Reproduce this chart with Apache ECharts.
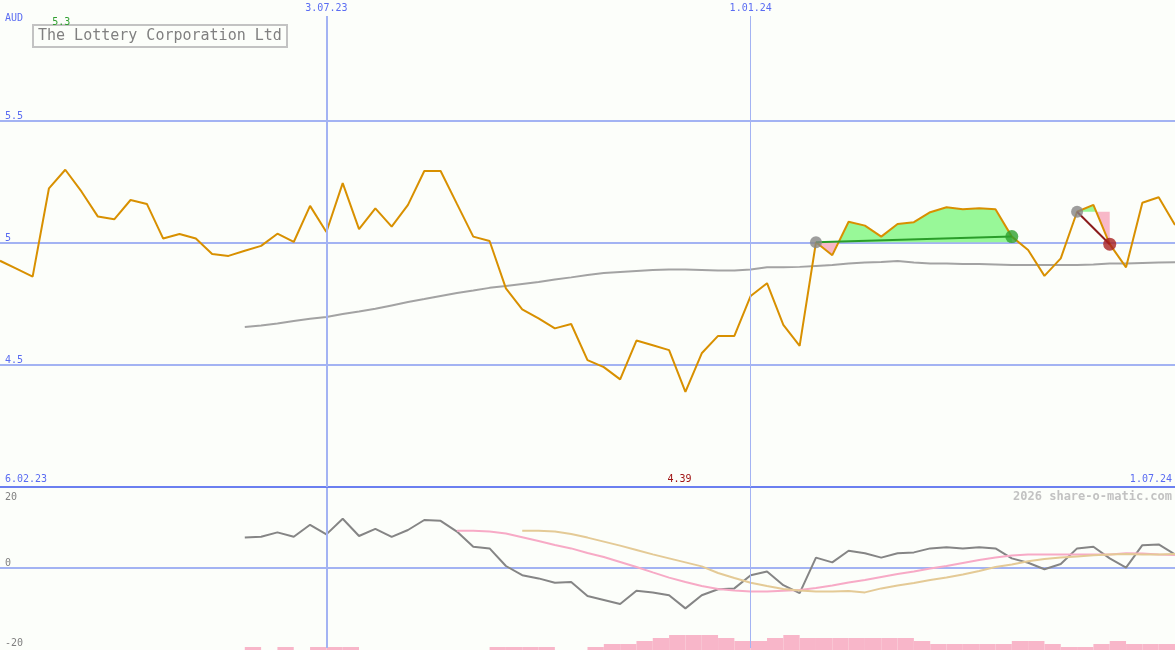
<!DOCTYPE html>
<html><head><meta charset="utf-8">
<script src="https://cdn.jsdelivr.net/npm/echarts@6/dist/echarts.min.js"></script>
<style>html,body{margin:0;padding:0;background:#fcfefa}#c{width:1175px;height:650px}</style>
</head><body><div id="c"></div><script>
// ---------- data ----------
const titleText = 'The Lottery Corporation Ltd';
const currency = 'AUD';
const footerText = '2026 share-o-matic.com';
const topTickIdx = [20, 46];
const topTickLabels = ['3.07.23', '1.01.24'];
const edgeTickIdx = [0, 72];
const edgeTickLabels = ['6.02.23', '1.07.24'];
const priceTicks = [4.5, 5, 5.5];
const oscTicksLow = [0, -20];
const oscTicksHigh = [20];

const price = [4.927,4.895,4.862,5.224,5.300,5.210,5.108,5.097,5.176,5.160,
  5.018,5.037,5.018,4.955,4.947,4.968,4.988,5.038,5.004,5.152,
  5.045,5.245,5.057,5.142,5.067,5.156,5.295,5.295,5.160,5.026,
  5.008,4.814,4.728,4.691,4.650,4.668,4.520,4.491,4.441,4.600,
  4.581,4.561,4.390,4.548,4.619,4.619,4.783,4.835,4.664,4.578,
  5.003,4.950,5.087,5.071,5.026,5.078,5.085,5.126,5.146,5.138,
  5.142,5.138,5.026,4.971,4.865,4.937,5.128,5.156,4.995,4.900,
  5.165,5.187,5.074];
const priceMA = [null,null,null,null,null,null,null,null,null,null,
  null,null,null,null,null,4.656,4.662,4.670,4.680,4.689,
  4.697,4.709,4.719,4.730,4.744,4.758,4.770,4.783,4.795,4.805,
  4.816,4.824,4.832,4.840,4.850,4.859,4.869,4.877,4.881,4.885,
  4.889,4.891,4.891,4.889,4.887,4.887,4.891,4.900,4.900,4.902,
  4.906,4.910,4.916,4.920,4.922,4.926,4.920,4.916,4.916,4.914,
  4.914,4.912,4.910,4.910,4.910,4.910,4.910,4.912,4.916,4.916,
  4.918,4.920,4.921];
const momentum = [null,null,null,null,null,null,null,null,null,null,
  null,null,null,null,null,7.6,7.8,8.9,7.8,10.8,
  8.4,12.3,8.0,9.8,7.8,9.5,12.0,11.8,9.1,5.3,
  4.9,0.5,-1.8,-2.6,-3.7,-3.5,-7.0,-8.0,-9.0,-5.7,
  -6.1,-6.8,-10.1,-6.8,-5.3,-5.1,-1.8,-0.9,-4.3,-6.3,
  2.6,1.4,4.3,3.7,2.6,3.7,3.9,4.9,5.2,4.9,
  5.2,4.9,2.4,1.3,-0.3,1.0,4.9,5.3,2.4,0.1,
  5.7,5.9,3.4];
const oscFast = [null,null,null,null,null,null,null,null,null,null,
  null,null,null,null,null,null,null,null,null,null,
  null,null,null,null,null,null,null,null,9.3,9.3,
  9.1,8.6,7.7,6.75,5.75,4.9,3.75,2.75,1.5,0.25,
  -1.1,-2.4,-3.5,-4.5,-5.25,-5.6,-5.9,-5.9,-5.7,-5.5,
  -5.0,-4.4,-3.6,-3.0,-2.25,-1.5,-0.9,-0.1,0.5,1.25,
  2.0,2.6,3.1,3.4,3.4,3.4,3.4,3.4,3.4,3.7,
  3.6,3.4,3.25];
const oscSlow = [null,null,null,null,null,null,null,null,null,null,
  null,null,null,null,null,null,null,null,null,null,
  null,null,null,null,null,null,null,null,null,null,
  null,null,9.3,9.3,9.1,8.5,7.6,6.6,5.6,4.5,
  3.4,2.4,1.4,0.4,-1.25,-2.5,-3.7,-4.5,-5.25,-5.6,
  -5.9,-5.9,-5.75,-6.1,-5.1,-4.4,-3.75,-3.0,-2.4,-1.6,
  -0.75,0.25,0.9,1.7,2.25,2.6,2.9,3.2,3.4,3.5,
  3.4,3.4,3.5];
const volume = [0,0,0,0,0,0,0,0,0,0,
  0,0,0,0,0,1,0,1,0,1,
  1,1,0,0,0,0,0,0,0,0,
  1,1,1,1,0,0,1,2,2,3,
  4,5,5,5,4,3,3,4,5,4,
  4,4,4,4,4,4,3,2,2,2,
  2,2,3,3,2,1,1,2,3,2,
  2,2,0];
const tradeEntryIdx = [50, 66];
const tradeExitIdx = [62, 68];

// ---------- helpers ----------
const FONT = "'DejaVu Sans Mono', monospace";
const BLUE_TXT = '#5a6cf2';
const GRID_C = '#a3b3f3';
const BG = '#fcfefa';
const yMax = 5.93;
const pairs = arr => arr.map((v, i) => v == null ? null : [i, v]).filter(Boolean);

let argMax = 0, argMin = 0;
price.forEach((v, i) => { if (v > price[argMax]) argMax = i; if (v < price[argMin]) argMin = i; });

function tradePolys(k) {
  const s = tradeEntryIdx[k], e = tradeExitIdx[k], lvl = price[s];
  const pts = [];
  for (let i = s; i <= e; i++) {
    if (i > s) {
      const a = price[i - 1] - lvl, b = price[i] - lvl;
      if (a * b < 0) pts.push([i - 1 + a / (a - b), lvl]);
    }
    pts.push([i, price[i]]);
  }
  const up = pts.map(p => [p[0], Math.max(p[1], lvl)]).concat([[e, lvl], [s, lvl]]);
  const dn = pts.map(p => [p[0], Math.min(p[1], lvl)]).concat([[e, lvl], [s, lvl]]);
  return { up, dn };
}

const chart = echarts.init(document.getElementById('c'), null, { renderer: 'canvas' });
const option = {
  backgroundColor: BG,
  animation: false,
  textStyle: { fontFamily: FONT },
  grid: [
    { left: 0, right: 0, top: 16, height: 471 },
    { left: 0, right: 0, top: 488, height: 160 },
    { left: 0, right: 0, top: 620, height: 30 }
  ],
  xAxis: [
    { gridIndex: 0, type: 'value', min: 0, max: 72, position: 'top',
      axisLine: { show: false }, axisTick: { show: false }, splitLine: { show: false },
      axisLabel: { customValues: topTickIdx, formatter: v => topTickLabels[topTickIdx.indexOf(v)] || '',
        color: BLUE_TXT, fontFamily: FONT, fontSize: 10, margin: 3 } },
    { gridIndex: 0, type: 'value', min: 0, max: 72, position: 'bottom',
      axisLine: { show: true, onZero: false, lineStyle: { color: '#6b7ff0', width: 2 } },
      axisTick: { show: false }, splitLine: { show: false },
      axisLabel: { inside: true, customValues: edgeTickIdx, formatter: v => edgeTickLabels[edgeTickIdx.indexOf(v)] || '',
        alignMinLabel: 'left', alignMaxLabel: 'right', padding: [0, 3, 0, 5],
        color: BLUE_TXT, fontFamily: FONT, fontSize: 10, margin: 3 } },
    { gridIndex: 1, type: 'value', min: 0, max: 72, show: false },
    { gridIndex: 2, type: 'value', min: 0, max: 72, show: false }
  ],
  yAxis: [
    { gridIndex: 0, type: 'value', min: 4, max: yMax, interval: 0.5,
      axisLine: { show: false }, axisTick: { show: false },
      axisLabel: { inside: true, verticalAlign: 'bottom', margin: 5, color: BLUE_TXT, fontFamily: FONT, fontSize: 10,
        formatter: v => priceTicks.includes(v) ? String(v) : '' },
      splitLine: { show: true, showMinLine: false, showMaxLine: false, lineStyle: { color: GRID_C, width: 2 } },
      name: currency, nameLocation: 'end', nameGap: -2,
      nameTextStyle: { color: BLUE_TXT, fontFamily: FONT, fontSize: 10, align: 'left', verticalAlign: 'middle', padding: [0, 0, 0, 5] } },
    { gridIndex: 1, type: 'value', min: -20, max: 20, interval: 20, position: 'left',
      axisLine: { show: false }, axisTick: { show: false },
      axisLabel: { inside: true, verticalAlign: 'bottom', margin: 5, color: '#808080', fontFamily: FONT, fontSize: 10,
        formatter: v => oscTicksLow.includes(v) ? String(v) : '' },
      splitLine: { show: true, showMinLine: false, showMaxLine: false, lineStyle: { color: GRID_C, width: 2 } } },
    { gridIndex: 1, type: 'value', min: -20, max: 20, interval: 20, position: 'left',
      axisLine: { show: false }, axisTick: { show: false }, splitLine: { show: false },
      axisLabel: { inside: true, verticalAlign: 'top', margin: 5, padding: [4, 0, 0, 0], color: '#808080', fontFamily: FONT, fontSize: 10,
        formatter: v => oscTicksHigh.includes(v) ? String(v) : '' } },
    { gridIndex: 2, type: 'value', min: 0, max: 10, show: false }
  ],
  series: [
    { type: 'custom', xAxisIndex: 0, yAxisIndex: 0, z: 2, silent: true,
      data: tradeEntryIdx.map((s, k) => [s, price[s], k]),
      renderItem: (params, api) => {
        const p = tradePolys(api.value(2));
        return { type: 'group', children: [
          { type: 'polygon', shape: { points: p.up.map(q => api.coord(q)) }, style: { fill: '#98f898' } },
          { type: 'polygon', shape: { points: p.dn.map(q => api.coord(q)) }, style: { fill: '#f8b8c8' } }
        ] };
      },
      markLine: { symbol: 'none', silent: true, label: { show: false },
        lineStyle: { color: GRID_C, type: 'solid' },
        data: topTickIdx.map((x, j) => ({ xAxis: x, lineStyle: { width: j === 0 ? 2 : 1 } })) } },
    { type: 'line', xAxisIndex: 0, yAxisIndex: 0, z: 3, data: pairs(priceMA), showSymbol: false,
      lineStyle: { color: '#a3a3a3', width: 2 }, silent: true },
    { type: 'line', xAxisIndex: 0, yAxisIndex: 0, z: 3, data: pairs(price), showSymbol: false,
      lineStyle: { color: '#d89000', width: 2 }, silent: true,
      markPoint: { symbolSize: 0, silent: true,
        data: [
          { coord: [argMax, yMax], value: price[argMax], label: { color: '#2f9f2f', offset: [-4, 6] } },
          { coord: [argMin, 4], value: price[argMin], label: { color: '#a01414', offset: [-6, -8] } }
        ],
        label: { show: true, position: 'inside', fontFamily: FONT, fontSize: 10,
          formatter: p => String(+p.value.toFixed(2)) } } },
    { type: 'lines', coordinateSystem: 'cartesian2d', xAxisIndex: 0, yAxisIndex: 0, z: 4, silent: true,
      lineStyle: { width: 2, opacity: 1 },
      data: tradeEntryIdx.map((s, k) => {
        const e = tradeExitIdx[k];
        return { coords: [[s, price[s]], [e, price[e]]],
          lineStyle: { color: price[e] >= price[s] ? '#2a9d2a' : '#8b1c1c' } };
      }) },
    { type: 'scatter', xAxisIndex: 0, yAxisIndex: 0, z: 5, silent: true, symbol: 'circle',
      data: tradeEntryIdx.map(s => ({ value: [s, price[s]], symbolSize: 12, itemStyle: { color: '#868686' } }))
        .concat(tradeExitIdx.map((e, k) => ({ value: [e, price[e]], symbolSize: 13,
          itemStyle: { color: price[e] >= price[tradeEntryIdx[k]] ? '#2ea02e' : '#a82020' } }))) },
    { type: 'line', xAxisIndex: 2, yAxisIndex: 1, z: 3, data: pairs(momentum), showSymbol: false,
      lineStyle: { color: '#858585', width: 2 }, silent: true,
      markLine: { symbol: 'none', silent: true, label: { show: false },
        lineStyle: { color: GRID_C, type: 'solid' },
        data: topTickIdx.map((x, j) => ({ xAxis: x, lineStyle: { width: j === 0 ? 2 : 1 } })) } },
    { type: 'line', xAxisIndex: 2, yAxisIndex: 1, z: 3, data: pairs(oscFast), showSymbol: false,
      lineStyle: { color: '#f7aac6', width: 2 }, silent: true },
    { type: 'line', xAxisIndex: 2, yAxisIndex: 1, z: 3, data: pairs(oscSlow), showSymbol: false,
      lineStyle: { color: '#e4ca96', width: 2 }, silent: true },
    { type: 'custom', xAxisIndex: 3, yAxisIndex: 3, z: 4, silent: true,
      data: volume.map((v, i) => [i, v]),
      renderItem: (params, api) => {
        const i = api.value(0), v = api.value(1);
        if (!v) return null;
        const a = api.coord([i, v]), b = api.coord([i + 1, 0]);
        return { type: 'rect', shape: { x: a[0], y: a[1], width: b[0] - a[0], height: b[1] - a[1] },
          style: { fill: '#f8b6c9' } };
      } }
  ],
  graphic: [
    { type: 'group', left: 32, top: 24, z: 10, children: [
      { type: 'rect', shape: { x: 1, y: 1, width: 254, height: 22 },
        style: { fill: BG, stroke: '#c3c3c3', lineWidth: 2 } },
      { type: 'text', x: 6, y: 12, style: { text: titleText, font: "15px 'DejaVu Sans Mono'", fill: '#808080', verticalAlign: 'middle' } }
    ] },
    { type: 'text', right: 3, top: 491, z: 10,
      style: { text: footerText, font: "bold 12px 'DejaVu Sans Mono'", fill: '#c2c2c2' } }
  ]
};
chart.setOption(option);
</script></body></html>
